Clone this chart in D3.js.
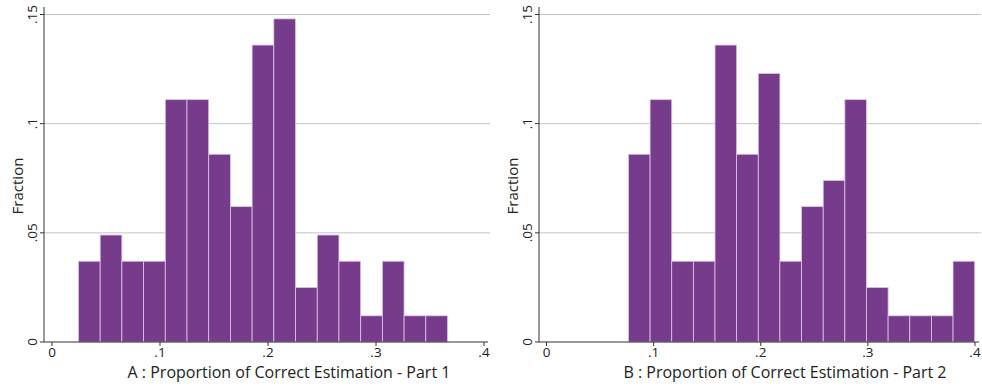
<!DOCTYPE html>
<html>
<head>
<meta charset="utf-8">
<script src="https://cdn.jsdelivr.net/npm/d3@7"></script>
<style>
  body { margin: 0; background: #fff; }
  svg { display: block; }
  text { font-family: "Open Sans", "Noto Sans", sans-serif; fill: #222; }
</style>
</head>
<body>
<svg id="chart" width="982" height="387"></svg>
<script>
// fractions (bin width ~0.02)
var fracA = [0.037, 0.049, 0.037, 0.037, 0.111, 0.111, 0.086, 0.062, 0.136, 0.148,
             0.025, 0.049, 0.037, 0.012, 0.037, 0.012, 0.012];
var fracB = [0.086, 0.111, 0.037, 0.037, 0.136, 0.086, 0.123, 0.037, 0.062, 0.074,
             0.111, 0.025, 0.012, 0.012, 0.012, 0.037];
var startA = 0.0245, widthA = 0.0201;
var startB = 0.0765, widthB = 0.0202;
var xTicks = [0, 0.1, 0.2, 0.3, 0.4];
var xTickLabels = ["0", ".1", ".2", ".3", ".4"];
var yTicks = [0, 0.05, 0.1, 0.15];
var yTickLabels = ["0", ".05", ".1", ".15"];
var titles = ["A : Proportion of Correct Estimation - Part 1",
              "B : Proportion of Correct Estimation - Part 2"];

var svg = d3.select("#chart");
var barColor = "#773b8c";

var panels = [
  { frac: fracA, start: startA, width: widthA, axisX: 44, x0: 52, x1: 484, right: 490, title: titles[0], titleX: 289 },
  { frac: fracB, start: startB, width: widthB, axisX: 539, x0: 546.5, x1: 975, right: 981, title: titles[1], titleX: 785 }
];

panels.forEach(function(p) {
  var x = d3.scaleLinear().domain([0, 0.4]).range([p.x0, p.x1]);
  var y = d3.scaleLinear().domain([0, 0.15]).range([342, 14.5]);
  var g = svg.append("g");

  // gridlines
  g.selectAll("line.grid").data(yTicks.slice(1)).enter().append("line")
    .attr("class", "grid")
    .attr("x1", p.axisX).attr("x2", p.right)
    .attr("y1", function(d) { return y(d); }).attr("y2", function(d) { return y(d); })
    .attr("stroke", "#c4c4c4").attr("stroke-width", 1);

  // bars
  g.selectAll("rect").data(p.frac).enter().append("rect")
    .attr("x", function(d, i) { return x(p.start + i * p.width); })
    .attr("width", function(d, i) { return x(p.start + (i + 1) * p.width) - x(p.start + i * p.width); })
    .attr("y", function(d) { return y(d); })
    .attr("height", function(d) { return y(0) - y(d); })
    .attr("fill", barColor)
    .attr("stroke", "#dcc8e4").attr("stroke-width", 0.8);

  // y axis
  g.append("line").attr("x1", p.axisX).attr("x2", p.axisX).attr("y1", 7).attr("y2", y(0))
    .attr("stroke", "#333").attr("stroke-width", 1);
  g.selectAll("line.ytick").data(yTicks).enter().append("line")
    .attr("x1", p.axisX - 4).attr("x2", p.axisX)
    .attr("y1", function(d) { return y(d); }).attr("y2", function(d) { return y(d); })
    .attr("stroke", "#333");
  g.selectAll("text.ylab").data(yTicks).enter().append("text")
    .attr("transform", function(d) { return "translate(" + (p.axisX - 7) + "," + y(d) + ") rotate(-90)"; })
    .attr("text-anchor", "middle").attr("font-size", 13.5)
    .text(function(d, i) { return yTickLabels[i]; });
  g.append("text")
    .attr("transform", "translate(" + (p.axisX - 21) + ",186) rotate(-90)")
    .attr("text-anchor", "middle").attr("font-size", 15)
    .text("Fraction");

  // x axis
  g.append("line").attr("x1", p.axisX).attr("x2", p.x1 + 4).attr("y1", y(0)).attr("y2", y(0))
    .attr("stroke", "#333").attr("stroke-width", 1);
  g.selectAll("line.xtick").data(xTicks).enter().append("line")
    .attr("x1", function(d) { return x(d); }).attr("x2", function(d) { return x(d); })
    .attr("y1", y(0)).attr("y2", y(0) + 4)
    .attr("stroke", "#333");
  g.selectAll("text.xlab").data(xTicks).enter().append("text")
    .attr("x", function(d) { return x(d); }).attr("y", 357)
    .attr("text-anchor", "middle").attr("font-size", 13.5)
    .text(function(d, i) { return xTickLabels[i]; });
  g.append("text")
    .attr("x", p.titleX).attr("y", 378)
    .attr("text-anchor", "middle").attr("font-size", 16)
    .text(p.title);
});
</script>
</body>
</html>
